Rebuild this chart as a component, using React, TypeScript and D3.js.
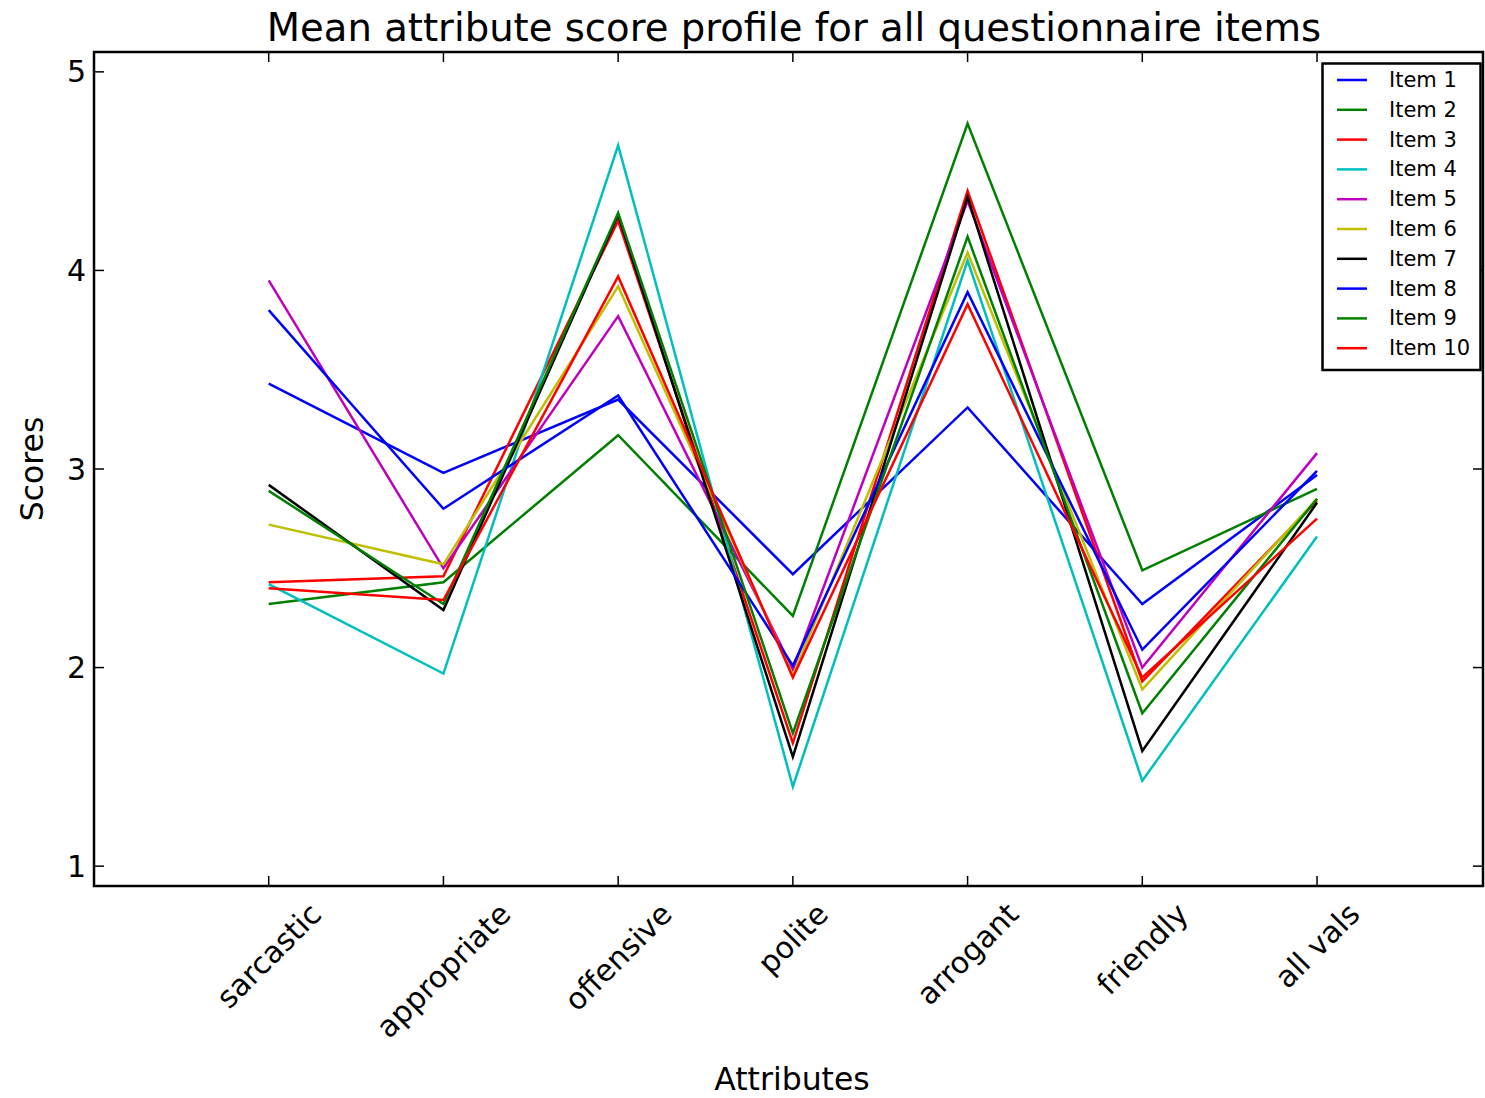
import React, { useEffect, useRef } from "react";
import * as d3 from "d3";

const categories = ["sarcastic", "appropriate", "offensive", "polite", "arrogant", "friendly", "all vals"];

const item1 = [3.43, 2.98, 3.35, 2.47, 3.31, 2.32, 2.97];
const item2 = [2.32, 2.43, 3.17, 2.26, 4.74, 2.49, 2.9];
const item3 = [2.43, 2.46, 4.25, 1.62, 4.4, 1.93, 2.84];
const item4 = [2.42, 1.97, 4.63, 1.4, 4.05, 1.43, 2.66];
const item5 = [3.95, 2.5, 3.77, 1.99, 4.35, 2.0, 3.08];
const item6 = [2.72, 2.52, 3.92, 1.96, 4.09, 1.89, 2.85];
const item7 = [2.92, 2.29, 4.28, 1.55, 4.37, 1.58, 2.83];
const item8 = [3.8, 2.8, 3.37, 2.01, 3.89, 2.09, 2.99];
const item9 = [2.89, 2.32, 4.29, 1.67, 4.17, 1.77, 2.85];
const item10 = [2.4, 2.34, 3.97, 1.95, 3.83, 1.95, 2.75];

const itemNames = ["Item 1", "Item 2", "Item 3", "Item 4", "Item 5", "Item 6", "Item 7", "Item 8", "Item 9", "Item 10"];
const itemColors = ["#0000ff", "#008000", "#ff0000", "#00bfbf", "#bf00bf", "#bfbf00", "#000000", "#0000ff", "#008000", "#ff0000"];
const yTicks = [1, 2, 3, 4, 5];

const titleText = "Mean attribute score profile for all questionnaire items";
const xLabelText = "Attributes";
const yLabelText = "Scores";

export default function App() {
  const ref = useRef<SVGSVGElement>(null);

  useEffect(() => {
    const svg = d3.select(ref.current);
    svg.selectAll("*").remove();
    const W = 1485;
    const H = 1098;
    const left = 94;
    const right = 1483;
    const top = 52;
    const bottom = 886;
    const font = "'DejaVu Sans', sans-serif";
    const tickLen = 10;
    const tickFont = 30;

    const x = d3.scaleLinear().domain([-1, 6.95]).range([left, right]);
    const y = d3.scaleLinear().domain([0.9, 5.1]).range([bottom, top]);

    svg.append("rect").attr("x", 0).attr("y", 0).attr("width", W).attr("height", H).attr("fill", "#fff");

    const series = [item1, item2, item3, item4, item5, item6, item7, item8, item9, item10];
    const line = d3
      .line<number>()
      .x((_, i) => x(i))
      .y((d) => y(d));

    const g = svg.append("g");
    series.forEach((s, k) => {
      g.append("path")
        .attr("d", line(s) as string)
        .attr("fill", "none")
        .attr("stroke", itemColors[k])
        .attr("stroke-width", 2.5)
        .attr("stroke-linejoin", "miter");
    });

    // frame
    svg
      .append("rect")
      .attr("x", left)
      .attr("y", top)
      .attr("width", right - left)
      .attr("height", bottom - top)
      .attr("fill", "none")
      .attr("stroke", "#000")
      .attr("stroke-width", 2.5);

    // y ticks
    yTicks.forEach((t) => {
      const yy = y(t);
      svg.append("line").attr("x1", left).attr("x2", left + tickLen).attr("y1", yy).attr("y2", yy).attr("stroke", "#000").attr("stroke-width", 1.5);
      svg.append("line").attr("x1", right - tickLen).attr("x2", right).attr("y1", yy).attr("y2", yy).attr("stroke", "#000").attr("stroke-width", 1.5);
      svg
        .append("text")
        .attr("x", left - 8)
        .attr("y", yy)
        .attr("text-anchor", "end")
        .attr("dominant-baseline", "central")
        .attr("font-family", font)
        .attr("font-size", tickFont)
        .attr("fill", "#000")
        .text(String(t));
    });

    // x ticks
    categories.forEach((c, i) => {
      const xx = x(i);
      svg.append("line").attr("x1", xx).attr("x2", xx).attr("y1", bottom).attr("y2", bottom - tickLen).attr("stroke", "#000").attr("stroke-width", 1.5);
      svg.append("line").attr("x1", xx).attr("x2", xx).attr("y1", top).attr("y2", top + tickLen).attr("stroke", "#000").attr("stroke-width", 1.5);
      const txt = svg
        .append("text")
        .attr("text-anchor", "middle")
        .attr("dominant-baseline", "central")
        .attr("font-family", font)
        .attr("font-size", tickFont)
        .attr("fill", "#000")
        .text(c);
      const L = (txt.node() as SVGTextElement).getComputedTextLength();
      const cy = 898 + (L + tickFont) / (2 * Math.SQRT2);
      txt.attr("x", xx).attr("y", cy).attr("transform", `rotate(-45, ${xx}, ${cy})`);
    });

    // title
    svg
      .append("text")
      .attr("x", 794)
      .attr("y", 41)
      .attr("text-anchor", "middle")
      .attr("font-family", font)
      .attr("font-size", 38.6)
      .attr("fill", "#000")
      .text(titleText);

    // axis labels
    svg
      .append("text")
      .attr("x", 792)
      .attr("y", 1090)
      .attr("text-anchor", "middle")
      .attr("font-family", font)
      .attr("font-size", 31.5)
      .attr("fill", "#000")
      .text(xLabelText);

    svg
      .append("text")
      .attr("transform", `translate(43, ${(top + bottom) / 2}) rotate(-90)`)
      .attr("text-anchor", "middle")
      .attr("font-family", font)
      .attr("font-size", 31.5)
      .attr("fill", "#000")
      .text(yLabelText);

    // legend
    const lg = svg.append("g");
    lg.append("rect")
      .attr("x", 1322.5)
      .attr("y", 63.5)
      .attr("width", 158)
      .attr("height", 306.5)
      .attr("fill", "#fff")
      .attr("stroke", "#000")
      .attr("stroke-width", 2.5);
    itemNames.forEach((name, k) => {
      const ry = 80 + k * 29.8;
      lg.append("line").attr("x1", 1337).attr("x2", 1367).attr("y1", ry).attr("y2", ry).attr("stroke", itemColors[k]).attr("stroke-width", 2.5);
      lg.append("text")
        .attr("x", 1389)
        .attr("y", ry)
        .attr("dominant-baseline", "central")
        .attr("font-family", font)
        .attr("font-size", 21)
        .attr("fill", "#000")
        .text(name);
    });
  }, []);

  return <svg ref={ref} width={1485} height={1098} style={{ position: "absolute", left: 0, top: 0 }} />;
}
